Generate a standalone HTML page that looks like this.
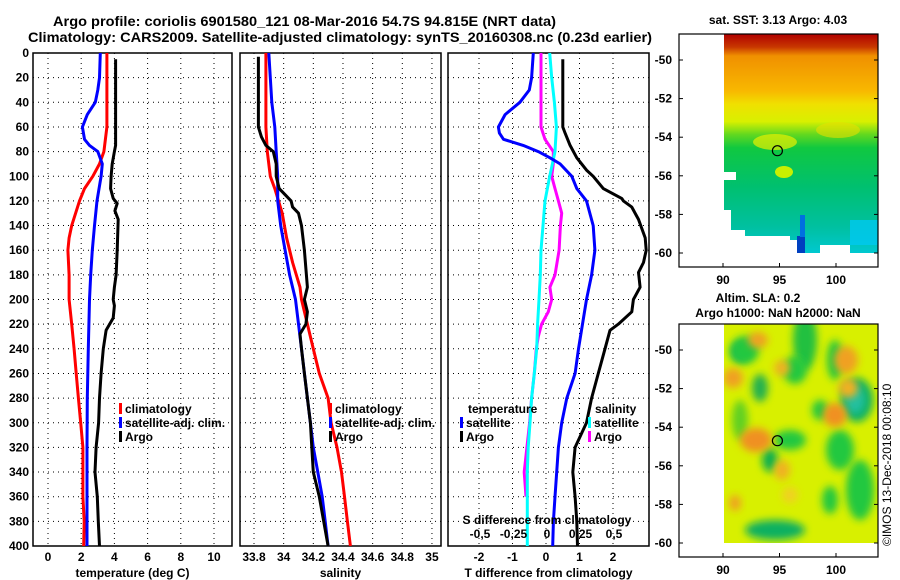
<!DOCTYPE html>
<html><head><meta charset="utf-8"><style>
html,body{margin:0;padding:0;background:#fff;}
svg{display:block;font-family:"Liberation Sans",sans-serif;font-weight:bold;}
</style></head><body>
<svg id="c" width="900" height="580" viewBox="0 0 900 580" xmlns="http://www.w3.org/2000/svg">
<text x="53" y="26" font-size="14" textLength="503" lengthAdjust="spacingAndGlyphs">Argo profile: coriolis 6901580_121 08-Mar-2016 54.7S 94.815E (NRT data)</text>
<text x="28" y="42" font-size="14" textLength="624" lengthAdjust="spacingAndGlyphs">Climatology: CARS2009. Satellite-adjusted climatology: synTS_20160308.nc (0.23d earlier)</text>
<g id="plots"></g>
<g id="maps"></g>
</svg>
<script>
// ---- data ----
const depthTicks=[0,20,40,60,80,100,120,140,160,180,200,220,240,260,280,300,320,340,360,380,400];
const tempTicks=[0,2,4,6,8,10];
const salTicks=[33.8,34,34.2,34.4,34.6,34.8,35];
const tdTicks=[-2,-1,0,1,2];
const sdTicks=[-0.5,-0.25,0,0.25,0.5];

const climTDepth=[0,60,80,90,100,110,120,140,150,160,180,200,220,240,260,280,300,320,340,360,380,400];
const climT=[3.55,3.55,3.37,3.1,2.7,2.2,1.9,1.43,1.27,1.2,1.27,1.27,1.43,1.57,1.7,1.83,1.97,2.1,2.1,2.1,2.18,2.15];
const satTDepth=[0,20,30,40,50,60,70,75,80,90,100,120,140,160,180,200,240,280,320,360,400];
const satT=[3.15,3.1,3.0,2.85,2.37,2.07,2.2,2.5,3.0,3.27,3.2,2.95,2.8,2.67,2.57,2.5,2.43,2.37,2.35,2.35,2.35];
const argoTDepth=[5,75,80,90,100,110,118,122,128,135,160,180,190,200,205,215,225,240,260,280,300,320,340,360,380,400];
const argoT=[4.07,4.07,4.0,3.87,3.8,3.77,3.93,4.17,4.03,4.23,4.17,4.1,4.0,3.93,4.0,3.93,3.5,3.33,3.2,3.1,3.05,2.9,2.83,2.97,3.03,3.1];

const climSDepth=[0,60,80,100,110,130,150,170,190,200,220,240,260,280,300,320,340,360,380,400];
const climS=[33.88,33.88,33.89,33.91,33.94,33.99,34.02,34.06,34.11,34.12,34.16,34.2,34.24,34.3,34.32,34.36,34.39,34.41,34.43,34.45];
const satSDepth=[0,20,40,60,80,100,120,140,160,180,200,220,240,260,280,300,320,340,360,380,400];
const satS=[33.9,33.91,33.92,33.94,33.95,33.96,33.96,33.98,34.01,34.04,34.08,34.1,34.12,34.14,34.16,34.18,34.2,34.23,34.26,34.28,34.3];
const argoSDepth=[3,60,68,75,80,90,100,110,115,120,125,130,140,160,175,190,200,210,220,228,240,260,280,300,320,340,360,380,400];
const argoS=[33.83,33.83,33.85,33.88,33.93,33.95,33.95,33.97,34.01,34.05,34.06,34.1,34.12,34.14,34.15,34.16,34.14,34.16,34.15,34.11,34.12,34.14,34.16,34.18,34.19,34.2,34.24,34.27,34.3];

const satTdDepth=[0,20,30,40,50,60,65,70,75,80,85,90,100,110,120,140,160,180,200,220,240,260,280,300,320,340,360,380,400];
const satTd=[-0.38,-0.43,-0.5,-0.78,-1.22,-1.42,-1.39,-1.27,-0.68,-0.23,0.12,0.42,0.77,0.92,1.21,1.41,1.46,1.36,1.21,1.09,0.97,0.87,0.62,0.47,0.37,0.32,0.27,0.22,0.2];
const argoTdDepth=[5,60,65,75,85,95,100,110,118,120,125,135,150,160,170,178,190,200,210,220,225,240,260,280,300,320,340,360,380,400];
const argoTd=[0.5,0.5,0.57,0.72,0.92,1.21,1.41,1.71,2.26,2.31,2.56,2.76,2.96,2.99,2.91,2.76,2.81,2.61,2.56,2.16,1.91,1.76,1.56,1.36,1.21,0.87,0.8,0.87,0.92,0.94];
const satSdDepth=[0,20,40,60,80,90,100,120,140,160,180,200,220,240,260,280,300,320,340,360,380,400];
const satSd=[0.02,0.035,0.055,0.07,0.06,0.04,0.02,-0.015,-0.03,-0.045,-0.05,-0.06,-0.07,-0.077,-0.095,-0.115,-0.127,-0.14,-0.147,-0.147,-0.147,-0.147];
const argoSdDepth=[0,60,70,80,90,100,110,120,130,140,160,180,190,200,210,220,230,240,260,280,300,320,340,360];
const argoSd=[-0.045,-0.045,-0.015,0.047,0.047,0.035,0.06,0.085,0.11,0.1,0.09,0.06,0.022,0.035,0.01,-0.04,-0.065,-0.08,-0.095,-0.115,-0.13,-0.15,-0.17,-0.157];

const latTicks=[-50,-52,-54,-56,-58,-60];
const lonTicks=[90,95,100];

// ---- helpers ----
const NS="http://www.w3.org/2000/svg";
const root=document.getElementById('plots');
function mk(tag,attrs,parent){const e=document.createElementNS(NS,tag);for(const k in attrs)e.setAttribute(k,attrs[k]);(parent||root).appendChild(e);return e;}
const Y0=53,Y1=546;
const yD=d=>Y0+(Y1-Y0)*d/400;

const panels=[
 {name:'temperature',L:33,R:232,x:v=>48+16.6*v,ticks:tempTicks,lab:'temperature (deg C)'},
 {name:'salinity',L:240,R:441,x:v=>254+148.3*(v-33.8),ticks:salTicks,lab:'salinity'},
 {name:'difference',L:448,R:649,x:v=>546+33.5*v,ticks:tdTicks,lab:'T difference from climatology'}
];
const xS=v=>547+134*v;

panels.forEach((p,pi)=>{
  const g=mk('g',{});
  
  
  depthTicks.forEach(d=>{
    const l=mk('line',{x1:p.L,x2:p.R,y1:yD(d),y2:yD(d),stroke:'#000','stroke-width':1,'stroke-dasharray':'1 4'},g);
    
    
  });
  p.ticks.forEach(t=>{
    const x=p.x(t);
    const l=mk('line',{x1:x,x2:x,y1:Y0,y2:Y1,stroke:'#000','stroke-width':1,'stroke-dasharray':'1 4'},g);
    
    
    const tx=mk('text',{x:x,y:561,'font-size':12,'text-anchor':'middle'},g);
    tx.textContent=String(t);
    
    
  });
  const fr=mk('rect',{x:p.L,y:Y0,width:p.R-p.L,height:Y1-Y0,fill:'none',stroke:'#000','stroke-width':1.5},g);
  
  
  const xl=mk('text',{x:(p.L+p.R)/2,y:577,'font-size':12,'text-anchor':'middle'},g);
  xl.textContent=p.lab;
  
  
});
depthTicks.forEach(d=>{
  const t=mk('text',{x:29,y:yD(d)+4,'font-size':12,'text-anchor':'end'});
  t.textContent=String(d);
  
  
});

function line(depths,vals,xf,color,name){
  const pts=depths.map((d,i)=>xf(vals[i]).toFixed(1)+','+yD(d).toFixed(1)).join(' ');
  const e=mk('polyline',{points:pts,fill:'none',stroke:color,'stroke-width':3,'stroke-linejoin':'round'});
  
  
}
const P=panels;
line(climTDepth,climT,P[0].x,'#ff0000','temp-climatology-line');
line(satTDepth,satT,P[0].x,'#0000ff','temp-satellite-line');
line(argoTDepth,argoT,P[0].x,'#000','temp-argo-line');
line(climSDepth,climS,P[1].x,'#ff0000','sal-climatology-line');
line(satSDepth,satS,P[1].x,'#0000ff','sal-satellite-line');
line(argoSDepth,argoS,P[1].x,'#000','sal-argo-line');
line(argoSdDepth,argoSd,xS,'#ff00ff','sdiff-argo-line');
line(satSdDepth,satSd,xS,'#00ffff','sdiff-satellite-line');
line(satTdDepth,satTd,P[2].x,'#0000ff','tdiff-satellite-line');
line(argoTdDepth,argoTd,P[2].x,'#000','tdiff-argo-line');

const sl=mk('text',{x:547,y:524,'font-size':12,'text-anchor':'middle'});
sl.textContent='S difference from climatology';


sdTicks.forEach(t=>{
  const e=mk('text',{x:xS(t),y:538,'font-size':12,'text-anchor':'middle'});
  e.textContent=(t===0?'0':String(t).replace('.',','));
  
  
});

function leg(x,y,color,label,name){
  const r=mk('rect',{x:x,y:y-10,width:3,height:11,fill:color});
  
  
  const t=mk('text',{x:x+6,y:y,'font-size':12});
  t.textContent=label;
  
  
}
leg(119,413,'#ff0000','climatology','legend-climatology');
leg(119,427,'#0000ff','satellite-adj. clim.','legend-satellite');
leg(119,441,'#000','Argo','legend-argo');
leg(329,413,'#ff0000','climatology','legend2-climatology');
leg(329,427,'#0000ff','satellite-adj. clim.','legend2-satellite');
leg(329,441,'#000','Argo','legend2-argo');
const th=mk('text',{x:468,y:413,'font-size':12});th.textContent='temperature';


leg(460,427,'#0000ff','satellite','legend-tdiff-satellite');
leg(460,441,'#000','Argo','legend-tdiff-argo');
const sh=mk('text',{x:595,y:413,'font-size':12});sh.textContent='salinity';


leg(588,427,'#00ffff','satellite','legend-sdiff-satellite');
leg(588,441,'#ff00ff','Argo','legend-sdiff-argo');

// ---- maps ----
const maps=document.getElementById('maps');
function mm(tag,attrs,parent){const e=document.createElementNS(NS,tag);for(const k in attrs)e.setAttribute(k,attrs[k]);(parent||maps).appendChild(e);return e;}
const defs=mm('defs',{});
defs.innerHTML='<linearGradient id="sst" x1="0" y1="0" x2="0" y2="1">'+
'<stop offset="0" stop-color="#b00000"/><stop offset="0.06" stop-color="#c83800"/><stop offset="0.1" stop-color="#f09000"/>'+
'<stop offset="0.26" stop-color="#f8b800"/><stop offset="0.32" stop-color="#f0e000"/><stop offset="0.4" stop-color="#d8f000"/>'+
'<stop offset="0.46" stop-color="#60d820"/><stop offset="0.52" stop-color="#10c840"/><stop offset="0.7" stop-color="#00c070"/>'+
'<stop offset="0.88" stop-color="#00c0a0"/><stop offset="1" stop-color="#00c8d0"/></linearGradient>'+
'<filter id="bl" x="-50%" y="-50%" width="200%" height="200%"><feGaussianBlur stdDeviation="4"/></filter>'+
'<clipPath id="c2"><rect x="724" y="324" width="154" height="219"/></clipPath>';
function mapAxes(top,bot,lat50,lat60,name){
  const g=mm('g',{});
  
  
  const lx=v=>723+11.3*(v-90);
  const ly=v=>lat50+(lat60-lat50)*(v+50)/-10;
  const fr=mm('rect',{x:679,y:top,width:199,height:bot-top,fill:'none',stroke:'#000','stroke-width':1.2},g);
  
  
  latTicks.forEach(v=>{
    const t=mm('text',{x:672,y:ly(v)+4,'font-size':12,'text-anchor':'end'},g);
    t.textContent=String(v);
    
    
    mm('line',{x1:679,x2:683,y1:ly(v),y2:ly(v),stroke:'#000'},g);
    mm('line',{x1:874,x2:878,y1:ly(v),y2:ly(v),stroke:'#000'},g);
  });
  lonTicks.forEach(v=>{
    const t=mm('text',{x:lx(v),y:bot+17,'font-size':12,'text-anchor':'middle'},g);
    t.textContent=String(v);
    
    
    mm('line',{x1:lx(v),x2:lx(v),y1:bot,y2:bot-4,stroke:'#000'},g);
  });
  const c=mm('circle',{cx:lx(94.815),cy:ly(-54.7),r:5,fill:'none',stroke:'#000','stroke-width':1.2},g);
  
  
}
const sst=mm('path',{d:'M724 34 H878 V253 H850 V245 H820 V253 H797 V240 H790 V236 H745 V230 H731 V210 H724 Z',fill:'url(#sst)'});


mm('rect',{x:724,y:172,width:12,height:8,fill:'#fff'});
mm('ellipse',{cx:775,cy:142,rx:22,ry:8,fill:'#e8f000',opacity:0.7});
mm('ellipse',{cx:838,cy:130,rx:22,ry:8,fill:'#e8e000',opacity:0.6});
mm('ellipse',{cx:784,cy:172,rx:9,ry:6,fill:'#c8f000'});
mm('rect',{x:797,y:236,width:8,height:17,fill:'#0040c0'});
mm('rect',{x:800,y:215,width:5,height:22,fill:'#0070e0'});
mm('rect',{x:850,y:220,width:28,height:25,fill:'#00c8f0',opacity:0.8});
mapAxes(34,267,60,253,'sst-map');
const t1=mm('text',{x:778,y:24,'font-size':12,'text-anchor':'middle'});t1.textContent='sat. SST: 3.13 Argo: 4.03';


const sg=mm('g',{'clip-path':'url(#c2)'});


mm('rect',{x:724,y:324,width:154,height:219,fill:'#d8f000'},sg);
const blobs=[
 [740,352,9,10,'#10b060'],[745,350,14,14,'#20c840'],[805,340,12,30,'#20c040'],[795,370,12,14,'#20c840'],[760,388,8,14,'#20b050'],
 [857,400,16,22,'#10b060'],[855,400,10,14,'#20c0a0'],[835,360,8,20,'#20c840'],[820,410,8,10,'#20c840'],[840,450,14,20,'#20c840'],
 [770,460,8,12,'#10b050'],[790,440,16,10,'#20c840'],[860,490,14,30,'#20c840'],[775,530,30,10,'#10b060'],[830,500,8,14,'#20c840'],
 [740,420,8,20,'#60d020'],
 [758,340,10,8,'#f0a020'],[733,378,10,10,'#f0a020'],[782,368,8,8,'#f0b020'],[846,360,12,14,'#f0a020'],[848,388,10,10,'#f0b020'],
 [835,415,12,12,'#f09020'],[756,440,16,12,'#f09020'],[782,470,8,10,'#f0b020'],[735,503,6,8,'#f0a020'],[790,495,8,8,'#f0d020']];
blobs.forEach(b=>{
  const e=mm('ellipse',{cx:b[0],cy:b[1],rx:b[2],ry:b[3],fill:b[4],filter:'url(#bl)'},sg);
  
  
});
mapAxes(324,557,350,543,'sla-map');
const t2=mm('text',{x:758,y:302,'font-size':12,'text-anchor':'middle'});t2.textContent='Altim. SLA: 0.2';

const t3=mm('text',{x:778,y:317,'font-size':12,'text-anchor':'middle'});t3.textContent='Argo h1000: NaN h2000: NaN';

const cr=mm('text',{x:0,y:0,'font-size':12,'font-weight':'normal',transform:'translate(891,546) rotate(-90)'});cr.textContent='©IMOS 13-Dec-2018 00:08:10';

</script>
</body></html>
